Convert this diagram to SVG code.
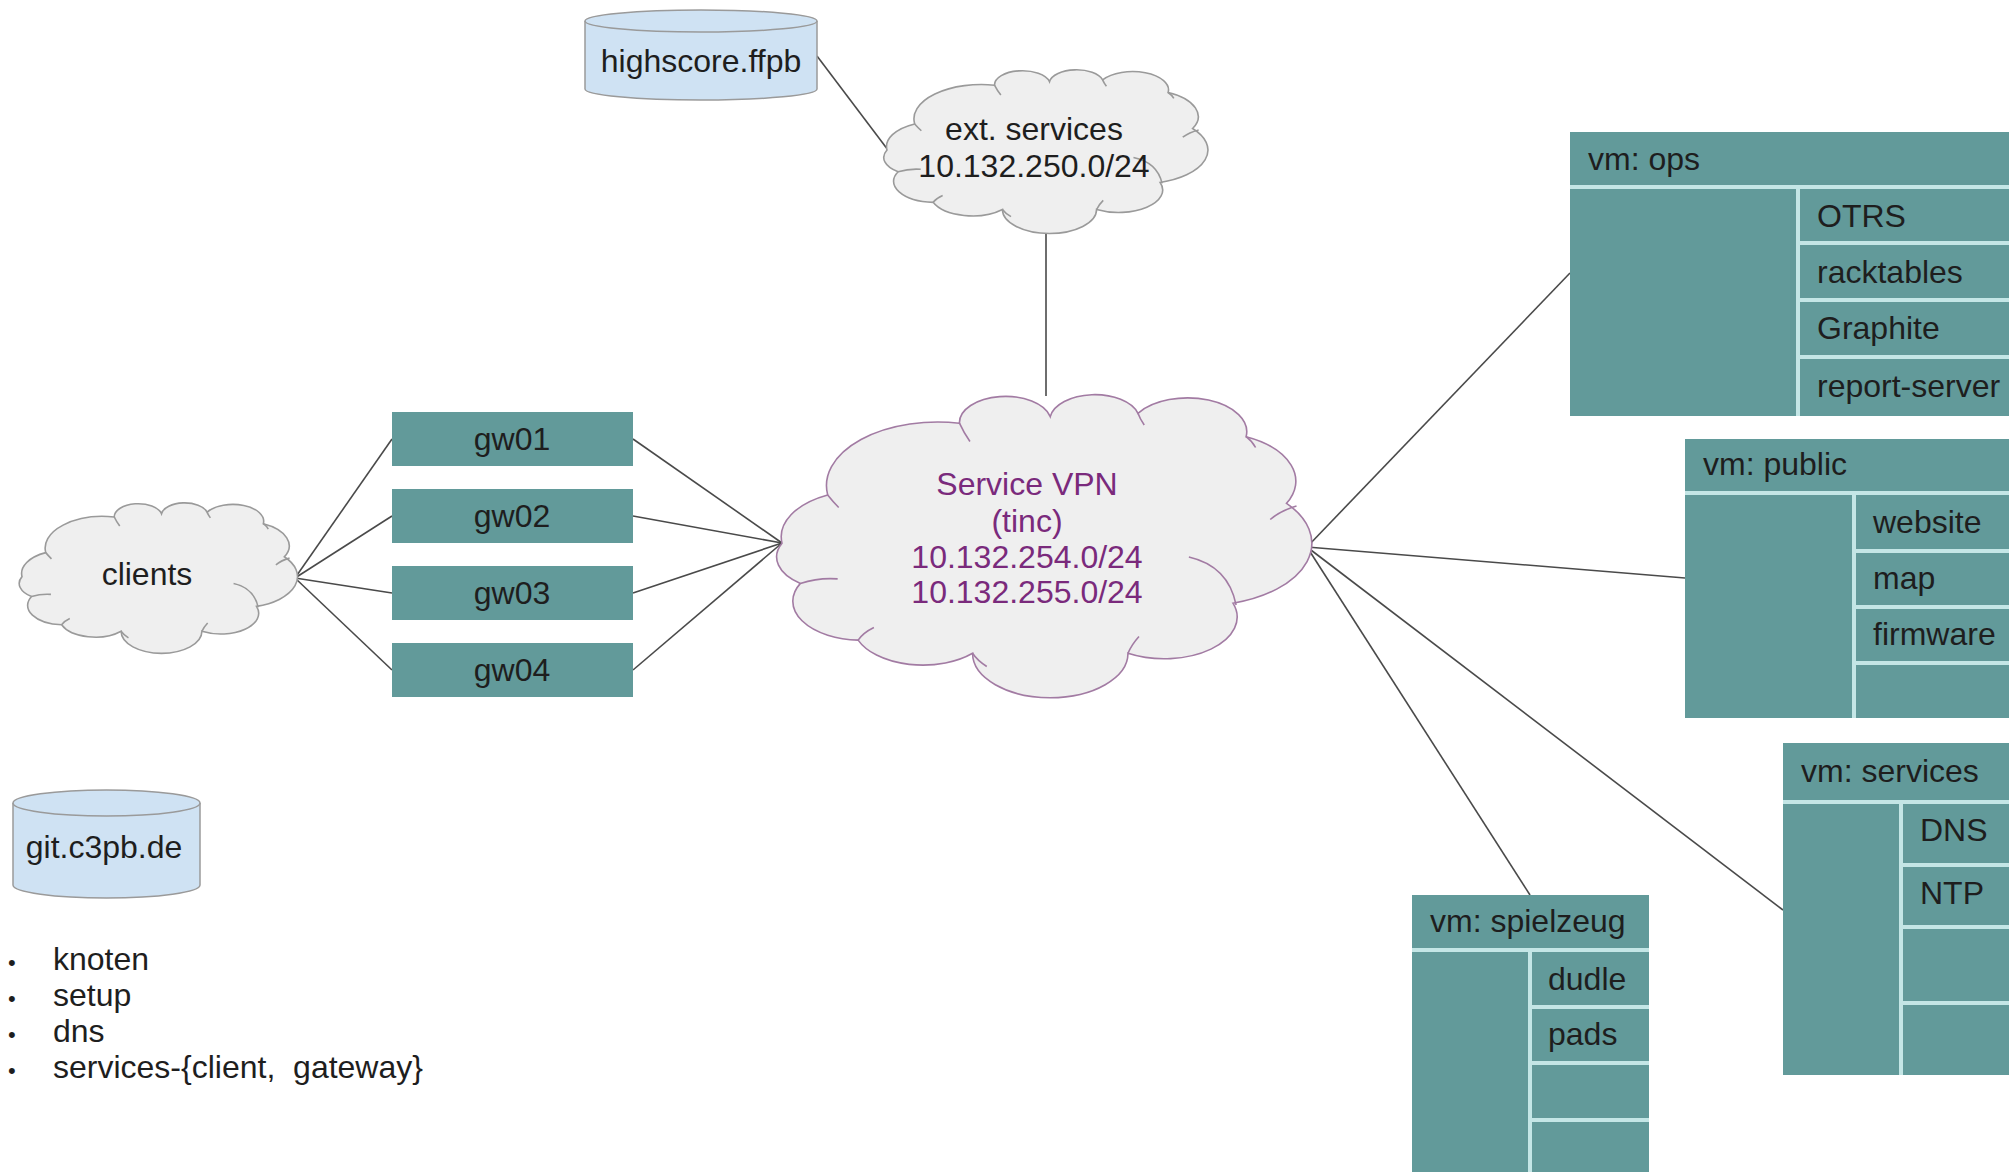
<svg xmlns="http://www.w3.org/2000/svg" xmlns:xlink="http://www.w3.org/1999/xlink" width="2009" height="1172" viewBox="0 0 2009 1172">
<style>
  text { font-family: "Liberation Sans", Arial, Helvetica, sans-serif; font-size: 32px; fill: #1e1e1e; }
  .mid { text-anchor: middle; }
  .vpn { fill: #7a2a7c; }
  .teal { fill: #629a9a; }
  .sep { stroke: #c4e6e6; stroke-width: 4; fill: none; }
  .conn { stroke: #4a4a4a; stroke-width: 1.6; fill: none; }
  .cyl { fill: #cfe2f3; stroke: #9a9a9a; stroke-width: 1.5; }
  .cloud { fill: #efefef; stroke: #9a9a9a; stroke-width: 1.6; }
  .cloudin { fill: none; stroke: #9a9a9a; stroke-width: 1.6; }
  .cloudv { fill: #efefef; stroke: #a27ba3; stroke-width: 1.6; }
  .cloudvin { fill: none; stroke: #a27ba3; stroke-width: 1.6; }
</style>
<defs>
  <path id="cloudOutline" vector-effect="non-scaling-stroke" d="M0,49.4 A15.5,15.5 0 0 1 8.7,33.3 A21.2,21.2 0 0 1 33.8,9.4 A8.77,8.77 0 0 1 51.1,7.2 A8.56,8.56 0 0 1 67.8,6.1 A11.27,11.27 0 0 1 88.4,13.9 A16.3,16.3 0 0 1 96.1,36.1 A20.8,20.8 0 0 1 85.9,69.4 A13.9,13.9 0 0 1 65.9,86.1 A14.8,14.8 0 0 1 36.3,86.1 A13.3,13.3 0 0 1 14.5,81.7 A12.97,12.97 0 0 1 3.5,62.8 A10.85,10.85 0 0 1 0,49.4 Z"/>
  <path id="cloudInner" vector-effect="non-scaling-stroke" d="M3.5,62.8 Q7,60.8 10.6,61.3 M77.5,54 Q85,57 86.5,70 M88.4,13.9 Q89.6,15.5 90.2,17.5 M93,41.5 Q95,38.5 98,37 M67.8,6.1 Q68.2,8 69,10 M33.8,9.4 Q34.6,12.5 35.8,15.5 M8.7,33.3 Q9.6,35.3 10.8,37.5 M36.3,86.1 Q37.2,88.5 39,90.5 M65.9,86.1 Q66.6,83.2 68,80.5 M14.5,81.7 Q15.5,79.2 17.5,77.5"/>
</defs>
<rect width="2009" height="1172" fill="#ffffff"/>

<g id="connectors">
  <line class="conn" x1="817" y1="56" x2="888" y2="150"/>
  <line class="conn" x1="1046" y1="232" x2="1046" y2="396"/>
  <line class="conn" x1="295" y1="578" x2="392" y2="439"/>
  <line class="conn" x1="295" y1="578" x2="392" y2="516"/>
  <line class="conn" x1="295" y1="578" x2="392" y2="593"/>
  <line class="conn" x1="295" y1="578" x2="392" y2="670"/>
  <line class="conn" x1="633" y1="439" x2="782" y2="543"/>
  <line class="conn" x1="633" y1="516" x2="782" y2="543"/>
  <line class="conn" x1="633" y1="593" x2="782" y2="543"/>
  <line class="conn" x1="633" y1="670" x2="782" y2="543"/>
  <line class="conn" x1="1307" y1="547" x2="1570" y2="273"/>
  <line class="conn" x1="1307" y1="547" x2="1685" y2="578"/>
  <line class="conn" x1="1307" y1="547" x2="1783" y2="910"/>
  <line class="conn" x1="1307" y1="547" x2="1530" y2="895"/>
</g>

<g id="highscore">
  <path class="cyl" d="M585,21 A116,11 0 0 1 817,21 V89 A116,11 0 0 1 585,89 Z"/>
  <path class="cyl" fill="none" d="M585,21 A116,11 0 0 0 817,21"/>
  <text class="mid" x="701" y="72">highscore.ffpb</text>
</g>

<g id="ext-services">
  <use href="#cloudOutline" class="cloud" transform="translate(887,70) scale(3.18,1.62)"/>
  <use href="#cloudInner" class="cloudin" transform="translate(887,70) scale(3.18,1.62)"/>
  <text class="mid" x="1034" y="140">ext. services</text>
  <text class="mid" x="1034" y="177">10.132.250.0/24</text>
</g>

<g id="clients">
  <use href="#cloudOutline" class="cloud" transform="translate(22,503) scale(2.73,1.49)"/>
  <use href="#cloudInner" class="cloudin" transform="translate(22,503) scale(2.73,1.49)"/>
  <text class="mid" x="147" y="585">clients</text>
</g>

<g id="gw01">
  <rect class="teal" x="392" y="412" width="241" height="54"/>
  <text class="mid" x="512" y="450">gw01</text>
</g>
<g id="gw02">
  <rect class="teal" x="392" y="489" width="241" height="54"/>
  <text class="mid" x="512" y="527">gw02</text>
</g>
<g id="gw03">
  <rect class="teal" x="392" y="566" width="241" height="54"/>
  <text class="mid" x="512" y="604">gw03</text>
</g>
<g id="gw04">
  <rect class="teal" x="392" y="643" width="241" height="54"/>
  <text class="mid" x="512" y="681">gw04</text>
</g>

<g id="service-vpn">
  <use href="#cloudOutline" class="cloudv" transform="translate(782,395) scale(5.25,3.0)"/>
  <use href="#cloudInner" class="cloudvin" transform="translate(782,395) scale(5.25,3.0)"/>
  <text class="mid vpn" x="1027" y="495">Service VPN</text>
  <text class="mid vpn" x="1027" y="532">(tinc)</text>
  <text class="mid vpn" x="1027" y="568">10.132.254.0/24</text>
  <text class="mid vpn" x="1027" y="603">10.132.255.0/24</text>
</g>

<g id="vm-ops">
  <rect class="teal" x="1570" y="132" width="460" height="284"/>
  <line class="sep" x1="1570" y1="187" x2="2030" y2="187"/>
  <line class="sep" x1="1798" y1="187" x2="1798" y2="416"/>
  <line class="sep" x1="1798" y1="243" x2="2030" y2="243"/>
  <line class="sep" x1="1798" y1="300" x2="2030" y2="300"/>
  <line class="sep" x1="1798" y1="357" x2="2030" y2="357"/>
  <text x="1588" y="170">vm: ops</text>
  <text x="1817" y="227">OTRS</text>
  <text x="1817" y="283">racktables</text>
  <text x="1817" y="339">Graphite</text>
  <text x="1817" y="397">report-server</text>
</g>

<g id="vm-public">
  <rect class="teal" x="1685" y="439" width="345" height="279"/>
  <line class="sep" x1="1685" y1="493" x2="2030" y2="493"/>
  <line class="sep" x1="1854" y1="493" x2="1854" y2="718"/>
  <line class="sep" x1="1854" y1="551" x2="2030" y2="551"/>
  <line class="sep" x1="1854" y1="607" x2="2030" y2="607"/>
  <line class="sep" x1="1854" y1="663" x2="2030" y2="663"/>
  <text x="1703" y="475">vm: public</text>
  <text x="1873" y="533">website</text>
  <text x="1873" y="589">map</text>
  <text x="1873" y="645">firmware</text>
</g>

<g id="vm-services">
  <rect class="teal" x="1783" y="743" width="247" height="332"/>
  <line class="sep" x1="1783" y1="802" x2="2030" y2="802"/>
  <line class="sep" x1="1901" y1="802" x2="1901" y2="1075"/>
  <line class="sep" x1="1901" y1="865" x2="2030" y2="865"/>
  <line class="sep" x1="1901" y1="927" x2="2030" y2="927"/>
  <line class="sep" x1="1901" y1="1003" x2="2030" y2="1003"/>
  <text x="1801" y="782">vm: services</text>
  <text x="1920" y="841">DNS</text>
  <text x="1920" y="904">NTP</text>
</g>

<g id="vm-spielzeug">
  <rect class="teal" x="1412" y="895" width="237" height="290"/>
  <line class="sep" x1="1412" y1="950" x2="1649" y2="950"/>
  <line class="sep" x1="1530" y1="950" x2="1530" y2="1185"/>
  <line class="sep" x1="1530" y1="1007" x2="1649" y2="1007"/>
  <line class="sep" x1="1530" y1="1063" x2="1649" y2="1063"/>
  <line class="sep" x1="1530" y1="1120" x2="1649" y2="1120"/>
  <text x="1430" y="932">vm: spielzeug</text>
  <text x="1548" y="990">dudle</text>
  <text x="1548" y="1045">pads</text>
</g>

<g id="git-c3pb">
  <path class="cyl" d="M13,803 A93.5,13 0 0 1 200,803 V885 A93.5,13 0 0 1 13,885 Z"/>
  <path class="cyl" fill="none" d="M13,803 A93.5,13 0 0 0 200,803"/>
  <text class="mid" x="104" y="858">git.c3pb.de</text>
</g>

<g id="repo-list">
  <text x="8" y="970" style="font-size:22px">•</text>
  <text x="53" y="970">knoten</text>
  <text x="8" y="1006" style="font-size:22px">•</text>
  <text x="53" y="1006">setup</text>
  <text x="8" y="1042" style="font-size:22px">•</text>
  <text x="53" y="1042">dns</text>
  <text x="8" y="1078" style="font-size:22px">•</text>
  <text x="53" y="1078" xml:space="preserve">services-{client,  gateway}</text>
</g>
</svg>
